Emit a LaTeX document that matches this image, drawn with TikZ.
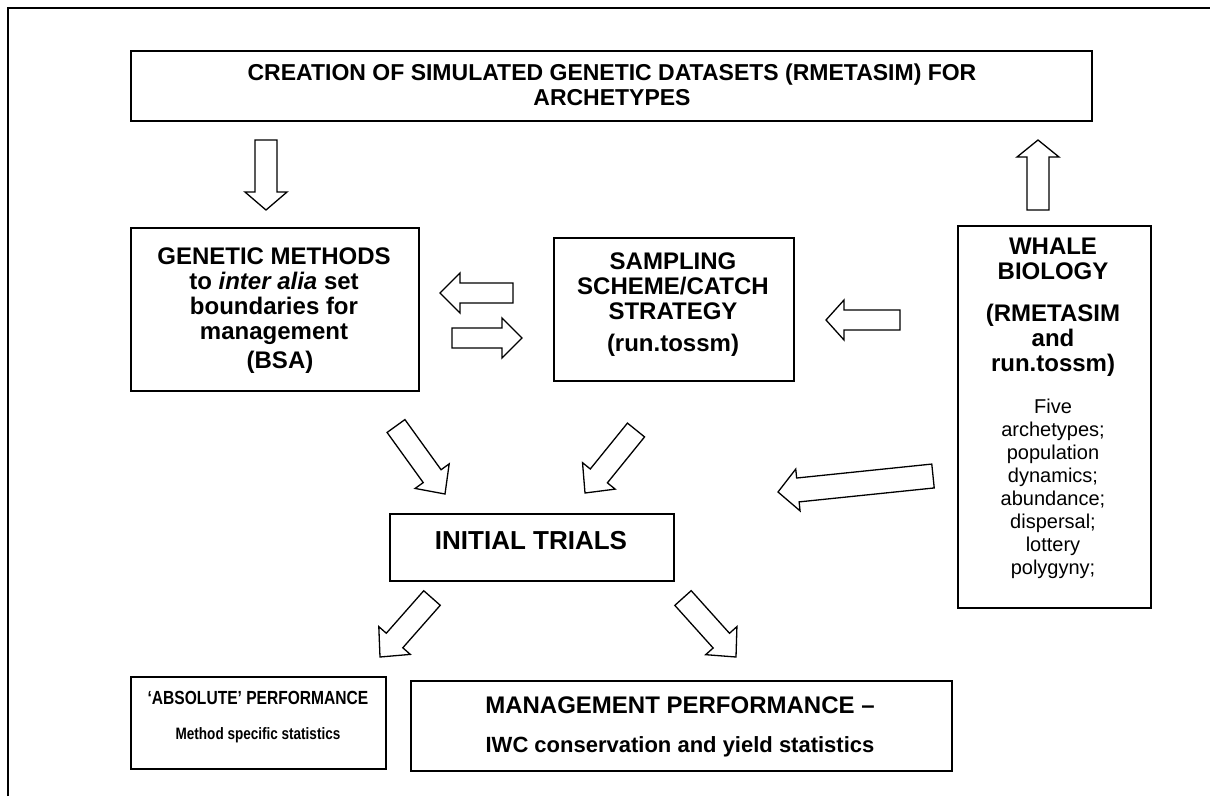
\documentclass[tikz,border=0pt]{standalone}
\usepackage{fontspec}
\setmainfont{Liberation Sans}
\newfontfamily\narrowfont[FakeStretch=0.82]{Liberation Sans}
\usetikzlibrary{calc,positioning}

\tikzset{
  box/.style={draw, line width=1.5pt, inner sep=0pt, anchor=north west},
  bigarrow/.style={draw, line width=1.3pt, fill=white, line join=miter},
  frameline/.style={line width=2pt},
  title/.style={align=center, inner sep=0pt, font=\fontsize{24}{25}\selectfont\bfseries},
  plain/.style={align=center, inner sep=0pt, font=\fontsize{20}{23}\selectfont},
}
% tail, tip, half shaft, half head, head length
\newcommand{\blockarrow}[5]{%
  \coordinate (hb) at ($(#2)!#5!(#1)$);
  \draw[bigarrow] ($(#1)!#3!90:(#2)$) -- ($(hb)!#3!90:(#2)$) -- ($(hb)!#4!90:(#2)$)
    -- (#2) -- ($(hb)!#4!-90:(#2)$) -- ($(hb)!#3!-90:(#2)$) -- ($(#1)!#3!-90:(#2)$) -- cycle;
}

\begin{document}
\begin{tikzpicture}[x=1pt,y=-1pt]
	\useasboundingbox (0,0) rectangle (1210,796);
	\draw[frameline] (8,796) -- (8,8) -- (1210,8);

	% boxes
	\node[box, minimum width=961, minimum height=70] (create) at (130,50) {};
	\node[box, minimum width=288, minimum height=163] (genetic) at (130,227) {};
	\node[box, minimum width=240, minimum height=143] (sampling) at (553,237) {};
	\node[box, minimum width=193, minimum height=382] (whale) at (957,225) {};
	\node[box, minimum width=284, minimum height=67] (initial) at (389,513) {};
	\node[box, minimum width=255, minimum height=92] (absolute) at (130,676) {};
	\node[box, minimum width=541, minimum height=90] (manage) at (410,680) {};

	% texts
	\node[title, font=\fontsize{23}{24.5}\selectfont\bfseries] (createtxt) at (612,85)
		{CREATION OF SIMULATED GENETIC DATASETS (RMETASIM) FOR\\ARCHETYPES};
	\node[title, anchor=north] (genetictxt) at (274,248)
		{GENETIC METHODS\\to \textit{inter alia} set\\boundaries for\\management\\[4pt]\hspace*{12pt}(BSA)};
	\node[title, anchor=north] (samplingtxt) at (673,253)
		{SAMPLING\\SCHEME/CATCH\\STRATEGY\\[7pt](run.tossm)};
	\node[title, anchor=north] (whaletxt) at (1053,238)
		{WHALE\\BIOLOGY\\[17pt](RMETASIM\\and\\run.tossm)};
	\node[plain, anchor=north] (biotxt) at (1053,399)
		{Five\\archetypes;\\population\\dynamics;\\abundance;\\dispersal;\\lottery\\polygyny;};
	\node[title, font=\fontsize{26}{30}\selectfont\bfseries] (initialtxt) at (531,541) {INITIAL TRIALS};
	\node[title, font=\fontsize{19}{22}\selectfont\narrowfont\bfseries] (abstxt) at (258,698) {‘ABSOLUTE’ PERFORMANCE};
	\node[title, font=\fontsize{16.5}{19}\selectfont\narrowfont\bfseries] (absstat) at (258,735) {Method specific statistics};
	\node[title, font=\fontsize{24}{28}\selectfont\bfseries] (mantxt) at (680,705) {MANAGEMENT PERFORMANCE –};
	\node[title, font=\fontsize{22}{26}\selectfont\bfseries] (manstat) at (680,747) {IWC conservation and yield statistics};

	% block arrows
	\blockarrow{266,140}{266,210}{11pt}{21pt}{18pt}
	\blockarrow{1038,210}{1038,140}{11pt}{21pt}{17pt}
	\blockarrow{513,293}{440,293}{10pt}{20pt}{20pt}
	\blockarrow{452,338}{522,338}{10pt}{20pt}{20pt}
	\blockarrow{900,320}{826,320}{10pt}{20pt}{18pt}
	\blockarrow{933,476}{778,492}{12pt}{21pt}{20pt}
	\blockarrow{396,426}{445,494}{11pt}{21pt}{22pt}
	\blockarrow{636,430}{585,493}{11pt}{21pt}{22pt}
	\blockarrow{432,598}{380,657}{11pt}{21pt}{22pt}
	\blockarrow{683,598}{736,657}{11pt}{21pt}{22pt}
\end{tikzpicture}
\end{document}
